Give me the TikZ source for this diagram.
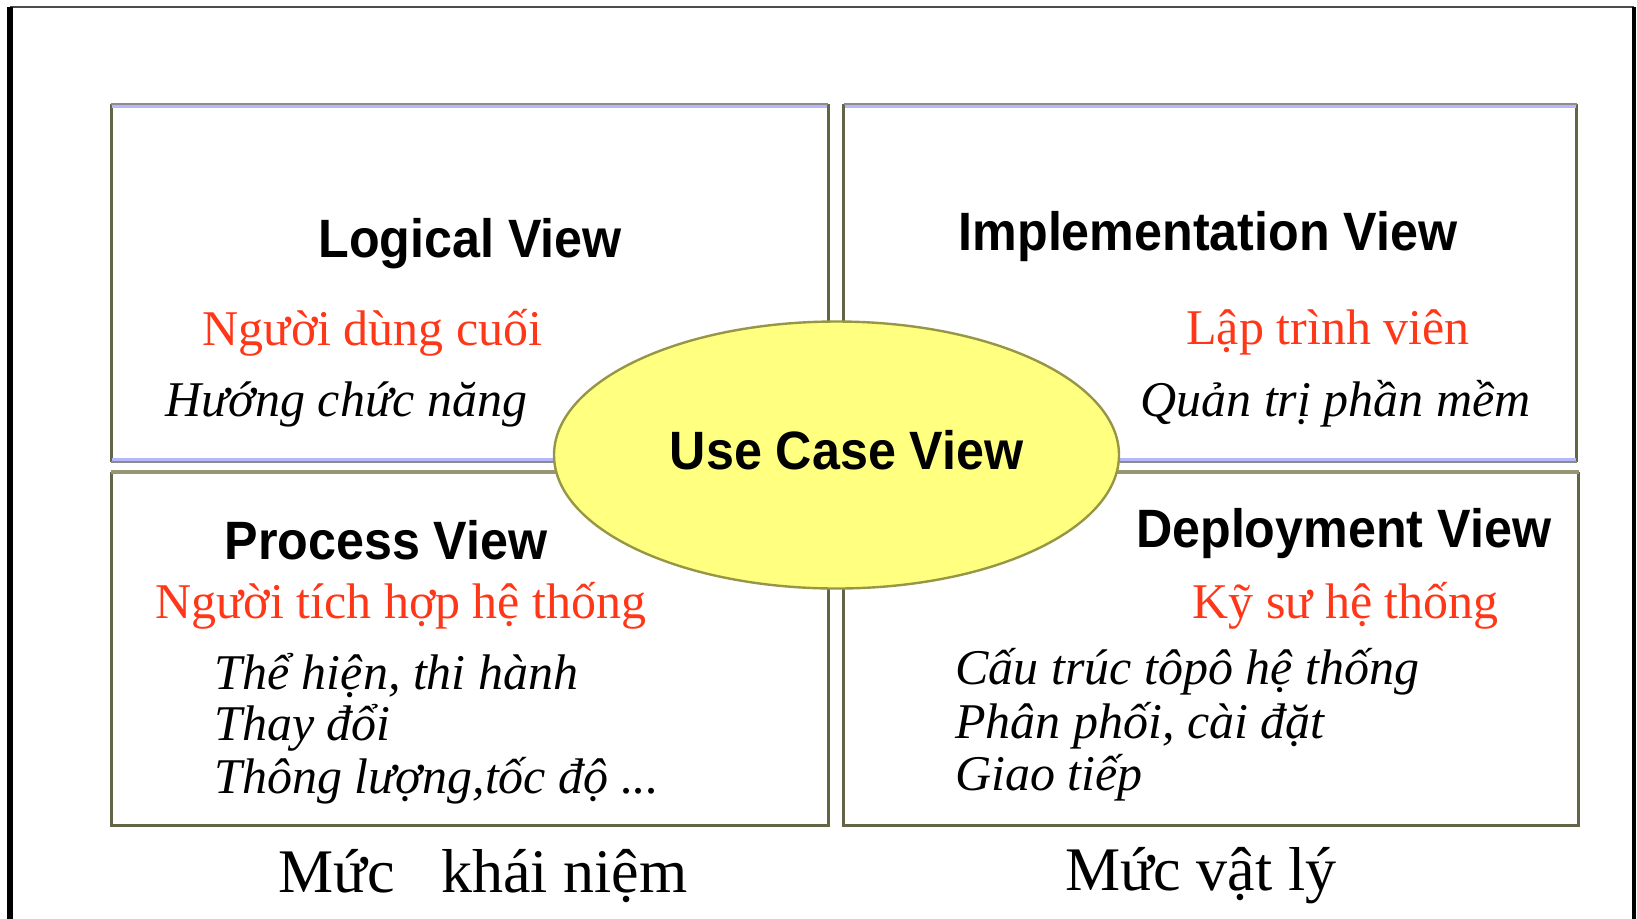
\documentclass[tikz,border=0pt]{standalone}
\usepackage{fontspec}
\setmainfont{Liberation Serif}
\newfontfamily\headfont{Liberation Sans}
\usetikzlibrary{shapes.geometric}
\definecolor{boxline}{RGB}{100,100,70}
\definecolor{boxtop}{RGB}{150,150,116}
\definecolor{edgegray}{RGB}{140,140,140}
\definecolor{lavender}{RGB}{182,182,255}
\definecolor{rolered}{RGB}{255,55,25}
\definecolor{ucfill}{RGB}{255,255,128}
\definecolor{ucline}{RGB}{150,150,70}
% headings are set in a slightly condensed bold sans
\newcommand{\headtext}[1]{\scalebox{0.93}[1]{#1}}
\begin{document}
\begin{tikzpicture}[x=0.5pt,y=-0.5pt,
  side/.style={draw=boxline,line width=1.5pt},
  graytop/.style={draw=edgegray,line width=1pt},
  lavline/.style={draw=lavender,line width=1.2pt},
  lowtop/.style={draw=boxtop,line width=2.2pt},
  heading/.style={font=\headfont\bfseries\fontsize{27}{32}\selectfont,inner sep=0pt},
  role/.style={font=\fontsize{25}{30}\selectfont,text=rolered,inner sep=0pt},
  duty/.style={font=\itshape\fontsize{25}{30}\selectfont,inner sep=0pt},
  level/.style={font=\fontsize{31}{36}\selectfont,inner sep=0pt}]
\useasboundingbox (0,0) rectangle (1637,918);

% outer frame (open at the bottom)
\draw[black!70,line width=1pt] (10,7) -- (1634,7);
\draw[black,line width=2.6pt] (10,7) -- (10,930);
\draw[black,line width=1.6pt] (1634,7) -- (1634,930);

% upper left: Logical View box
\draw[side] (111,104) -- (111,462);
\draw[side] (828,104) -- (828,462);
\draw[graytop] (111,104) -- (828,104);
\draw[lavline] (112,106.5) -- (827,106.5);
\draw[lavline] (112,459.5) -- (827,459.5);
\draw[graytop] (111,462) -- (828,462);

% upper right: Implementation View box
\draw[side] (843.5,104) -- (843.5,462);
\draw[side] (1576.5,104) -- (1576.5,462);
\draw[graytop] (843.5,104) -- (1576.5,104);
\draw[lavline] (844.5,106.5) -- (1575.5,106.5);
\draw[lavline] (844.5,459.5) -- (1575.5,459.5);
\draw[graytop] (843.5,462) -- (1576.5,462);

% lower left: Process View box
\draw[side] (111,472) -- (111,825) -- (828,825) -- (828,472);
\draw[lowtop] (111,472) -- (828,472);

% lower right: Deployment View box
\draw[side] (843.5,472) -- (843.5,825) -- (1578.5,825) -- (1578.5,472);
\draw[lowtop] (843.5,472) -- (1578.5,472);

% central use case ellipse
\node[ellipse,draw=ucline,line width=1.2pt,fill=ucfill,
      minimum width=282.5pt,minimum height=133.5pt,inner sep=0pt] (uc) at (836.5,455) {};
\node[heading,anchor=base] (uct) at (846.7,469) {\headtext{Use Case View}};

% Logical View
\node[heading,anchor=base] (lvt) at (470,257) {\headtext{Logical View}};
\node[role,anchor=base] (lvr) at (372.7,345.6) {Người dùng cuối};
\node[duty,anchor=base west] (lvd) at (165,416.6) {Hướng chức năng};

% Implementation View
\node[heading,anchor=base] (ivt) at (1208,250.6) {\headtext{Implementation View}};
\node[role,anchor=base] (ivr) at (1328,344.5) {Lập trình viên};
\node[duty,anchor=base west] (ivd) at (1140,416.6) {Quản trị phần mềm};

% Process View
\node[heading,anchor=base] (pvt) at (386,559.6) {\headtext{Process View}};
\node[role,anchor=base] (pvr) at (401,618) {Người tích hợp hệ thống};
\node[duty,anchor=base west] (pvd1) at (214,689) {Thể hiện, thi hành};
\node[duty,anchor=base west] (pvd2) at (214,740) {Thay đổi};
\node[duty,anchor=base west] (pvd3) at (214,793.5) {Thông lượng,tốc độ ...};

% Deployment View
\node[heading,anchor=base] (dvt) at (1343.6,547) {\headtext{Deployment View}};
\node[role,anchor=base] (dvr) at (1345.7,618) {Kỹ sư hệ thống};
\node[duty,anchor=base west] (dvd1) at (955,684) {Cấu trúc tôpô hệ thống};
\node[duty,anchor=base west] (dvd2) at (955,738) {Phân phối, cài đặt};
\node[duty,anchor=base west] (dvd3) at (955,790) {Giao tiếp};

% level captions
\node[level,anchor=base] (lvl1) at (483,892.6) {Mức\ \ \ khái niệm};
\node[level,anchor=base] (lvl2) at (1200.6,890.5) {Mức vật lý};
\end{tikzpicture}
\end{document}
